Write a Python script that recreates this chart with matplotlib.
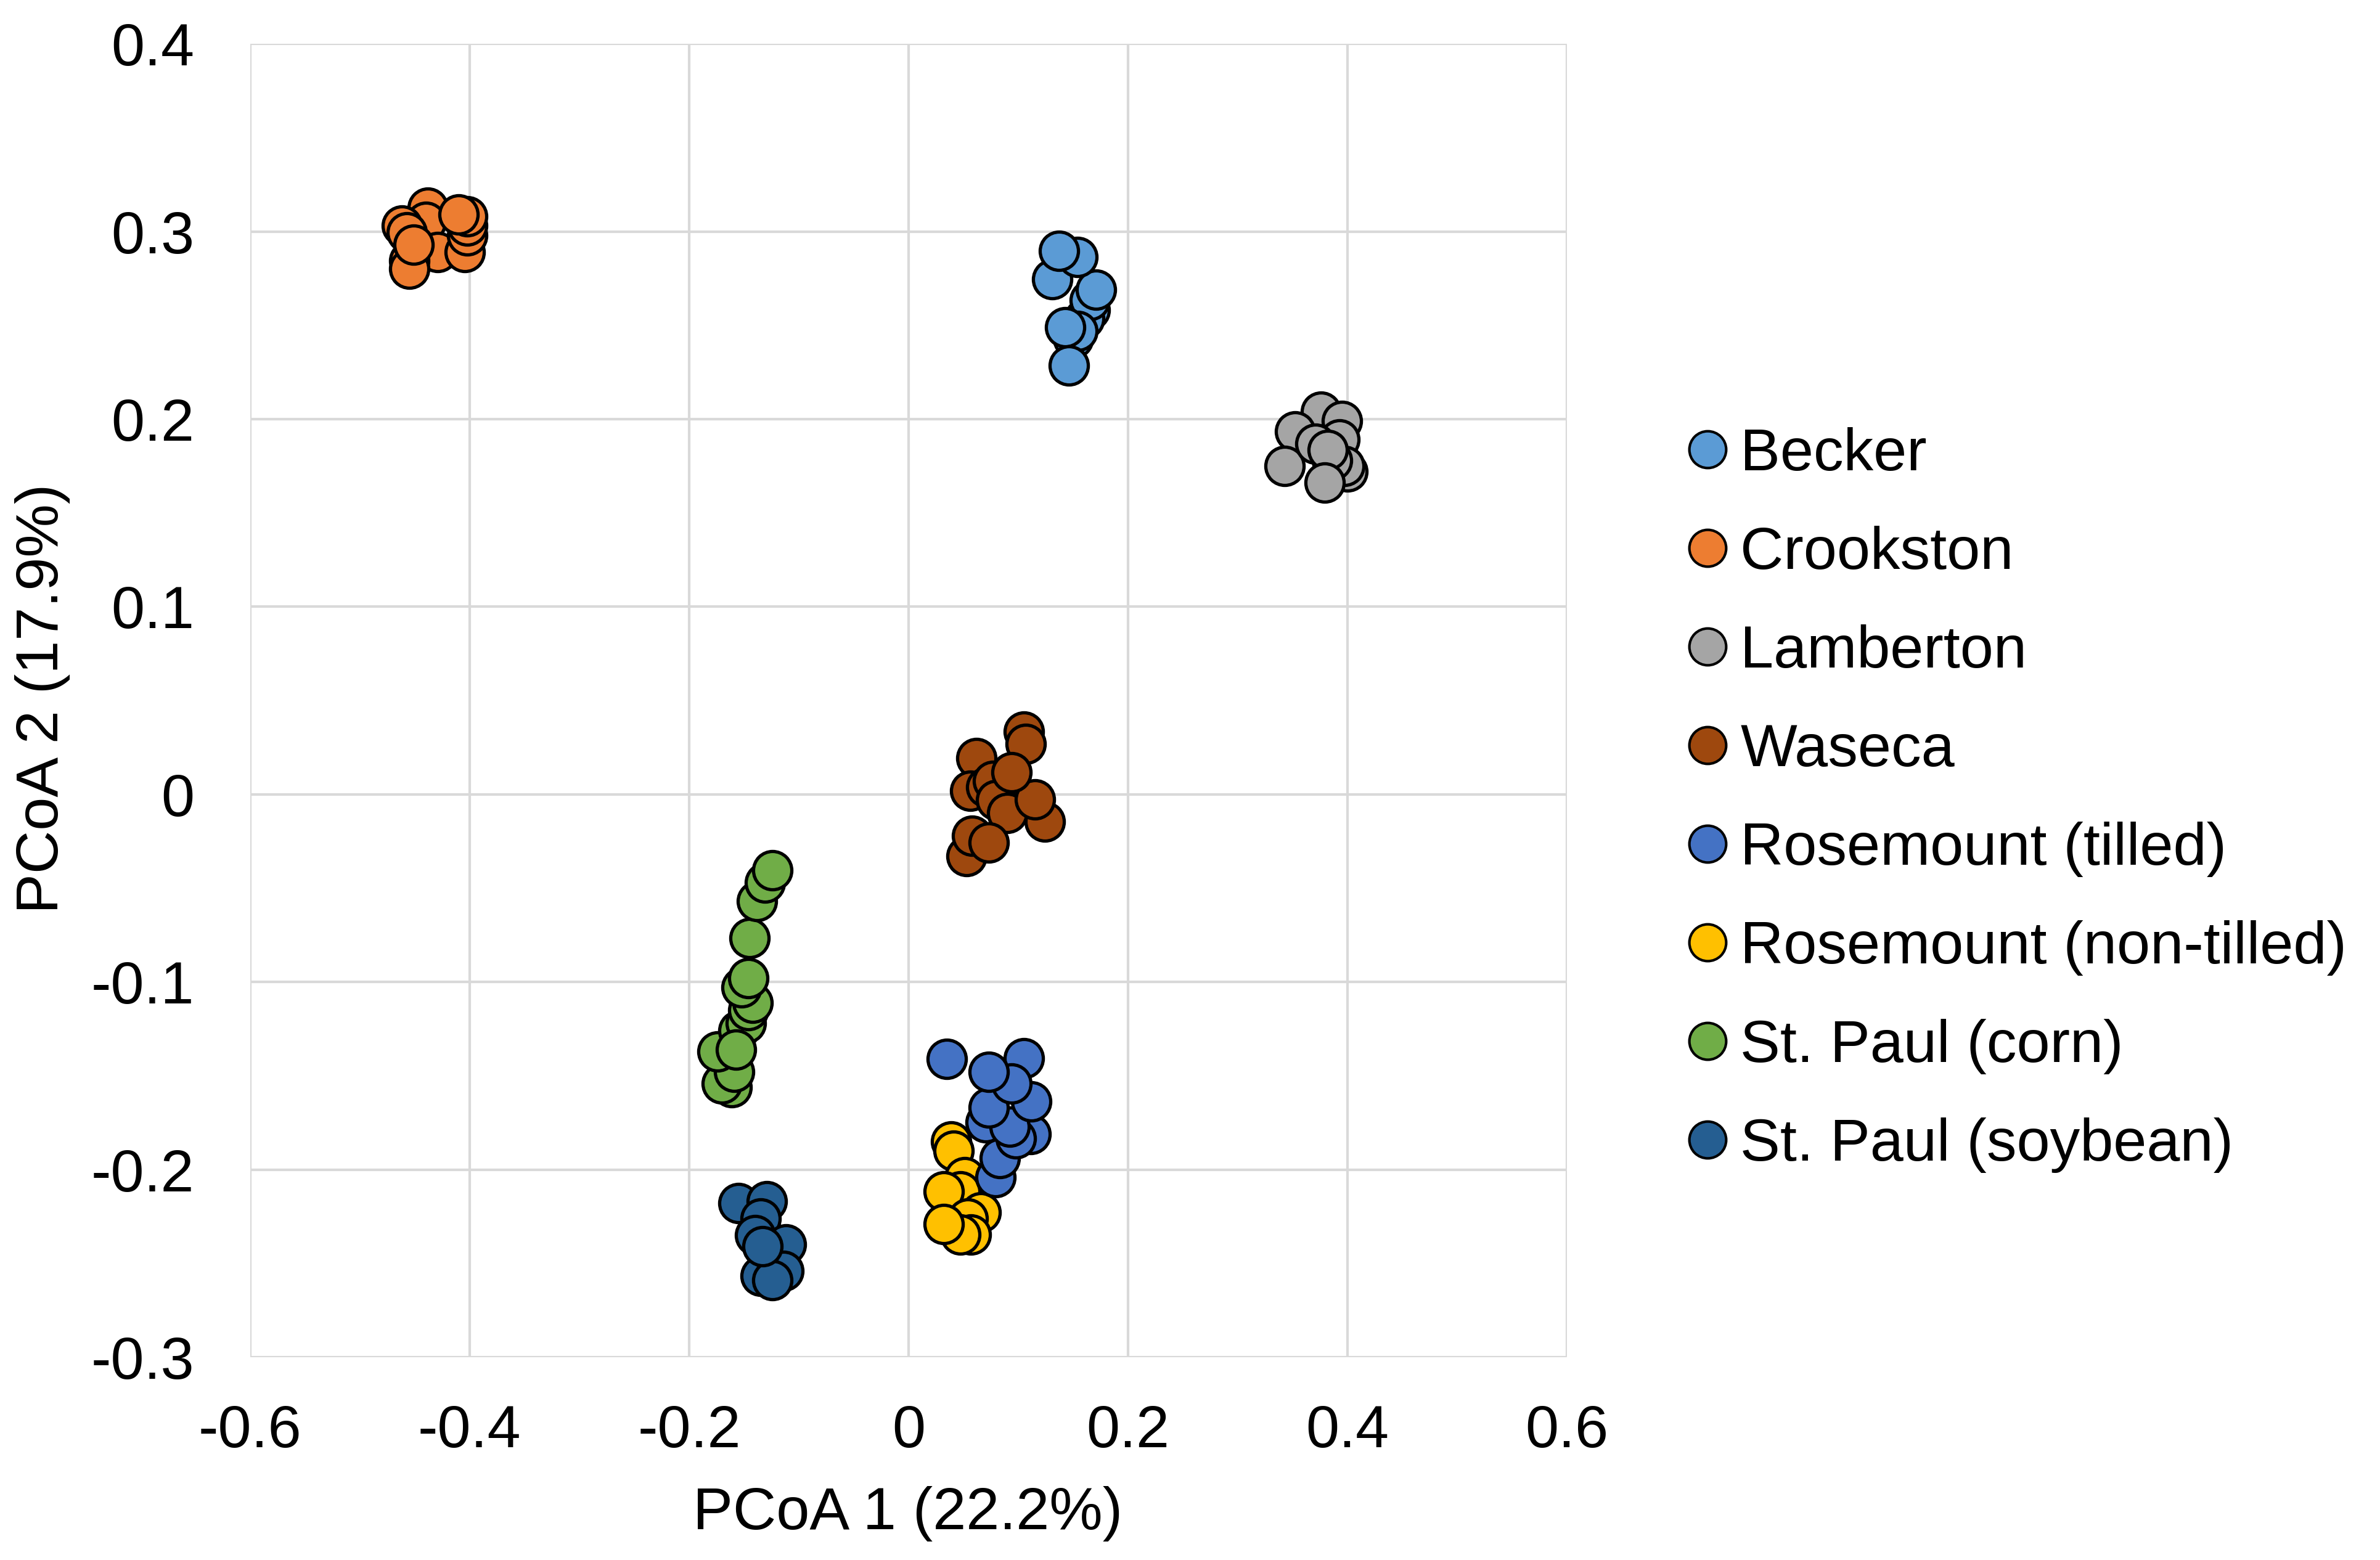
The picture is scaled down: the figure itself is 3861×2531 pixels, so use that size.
import matplotlib
matplotlib.use("Agg")
import matplotlib.pyplot as plt
from matplotlib.lines import Line2D

plt.rcParams['font.family'] = ['Liberation Sans', 'DejaVu Sans']

sites = ["Becker", "Crookston", "Lamberton", "Waseca", "Rosemount (tilled)",
         "Rosemount (non-tilled)", "St. Paul (corn)", "St. Paul (soybean)"]
colors = ["#5B9BD5", "#ED7D31", "#A5A5A5", "#9E480E", "#4472C4",
          "#FFC000", "#70AD47", "#255E91"]

becker_x = [0.165, 0.160, 0.165, 0.171, 0.150, 0.154, 0.143, 0.131, 0.154, 0.146, 0.137]
becker_y = [0.258, 0.2536, 0.2635, 0.269, 0.243, 0.247, 0.249, 0.2746, 0.2865, 0.2286, 0.2898]

crookston_x = [-0.438, -0.440, -0.462, -0.457, -0.429, -0.455, -0.455, -0.451,
               -0.4045, -0.402, -0.402, -0.402, -0.410]
crookston_y = [0.3128, 0.305, 0.303, 0.2996, 0.289, 0.2845, 0.280, 0.293,
               0.289, 0.298, 0.303, 0.308, 0.309]

lamberton_x = [0.376, 0.395, 0.352, 0.343, 0.400, 0.393, 0.371, 0.397, 0.386, 0.382, 0.379]
lamberton_y = [0.204, 0.199, 0.1935, 0.175, 0.172, 0.189, 0.187, 0.175, 0.178, 0.1836, 0.166]

waseca_x = [0.105, 0.107, 0.062, 0.056, 0.071, 0.077, 0.080, 0.090, 0.124,
            0.115, 0.053, 0.058, 0.073, 0.094]
waseca_y = [0.0335, 0.027, 0.0194, 0.002, 0.004, 0.007, -0.003, -0.010, -0.0145,
            -0.0026, -0.033, -0.022, -0.0256, 0.0118]

ros_t_x = [0.079, 0.083, 0.070, 0.111, 0.098, 0.092, 0.112, 0.073, 0.105, 0.094, 0.073, 0.035]
ros_t_y = [-0.204, -0.194, -0.175, -0.181, -0.1833, -0.177, -0.1636, -0.167, -0.1406,
           -0.154, -0.148, -0.141]

ros_n_x = [0.039, 0.041, 0.051, 0.047, 0.032, 0.066, 0.054, 0.057, 0.047, 0.032]
ros_n_y = [-0.185, -0.190, -0.204, -0.2116, -0.2116, -0.2227, -0.226, -0.2346, -0.2346, -0.229]

corn_x = [-0.161, -0.170, -0.159, -0.174, -0.155, -0.148, -0.146, -0.142, -0.152,
          -0.146, -0.145, -0.138, -0.131, -0.124, -0.157]
corn_y = [-0.156, -0.154, -0.148, -0.137, -0.126, -0.122, -0.115, -0.111, -0.103,
          -0.098, -0.0765, -0.057, -0.047, -0.0404, -0.136]

soy_x = [-0.155, -0.129, -0.135, -0.140, -0.112, -0.114, -0.135, -0.124, -0.133]
soy_y = [-0.218, -0.217, -0.226, -0.235, -0.240, -0.254, -0.2566, -0.259, -0.241]

xs = [becker_x, crookston_x, lamberton_x, waseca_x, ros_t_x, ros_n_x, corn_x, soy_x]
ys = [becker_y, crookston_y, lamberton_y, waseca_y, ros_t_y, ros_n_y, corn_y, soy_y]
zorders = [3, 3, 3, 3, 5, 4, 3, 3]

x_ticks = [-0.6, -0.4, -0.2, 0, 0.2, 0.4, 0.6]
y_ticks = [-0.3, -0.2, -0.1, 0, 0.1, 0.2, 0.3, 0.4]
x_labels = ["-0.6", "-0.4", "-0.2", "0", "0.2", "0.4", "0.6"]
y_labels = ["-0.3", "-0.2", "-0.1", "0", "0.1", "0.2", "0.3", "0.4"]

FS = 70

fig = plt.figure(figsize=(38.62, 25.31), dpi=100)
ax = fig.add_axes([0.1051, 0.130, 0.5531, 0.8419])

for x, y, c, z in zip(xs, ys, colors, zorders):
    ax.scatter(x, y, s=2000, c=c, edgecolors='black', linewidths=3.8, zorder=z)

ax.set_xlim(-0.6, 0.6)
ax.set_ylim(-0.3, 0.4)
ax.set_xticks(x_ticks)
ax.set_yticks(y_ticks)
ax.set_xticklabels(x_labels)
ax.set_yticklabels(y_labels)
ax.grid(True, color='#d9d9d9', linewidth=3)
ax.set_axisbelow(True)
for sp in ax.spines.values():
    sp.set_visible(False)
ax.tick_params(axis='both', length=0, labelsize=FS, colors='black')
ax.tick_params(axis='x', pad=55)
ax.tick_params(axis='y', pad=65)

fig.text(1473 / 3862, 1 - 2456 / 2531, "PCoA 1 (22.2%)", fontsize=FS,
         ha='center', va='center')
fig.text(69 / 3862, 1 - 1133 / 2531, "PCoA 2 (17.9%)", fontsize=FS,
         ha='center', va='center', rotation=90)

handles = [Line2D([0], [0], marker='o', linestyle='none', markersize=43,
                  markerfacecolor=c, markeredgecolor='black', markeredgewidth=3)
           for c in colors]
fig.legend(handles, sites, loc='upper left', bbox_to_anchor=(2726 / 3862, 1 - 693 / 2531),
           frameon=False, fontsize=FS, handletextpad=0.1, labelspacing=0.72,
           handlelength=0.9, borderpad=0, borderaxespad=0)

fig.savefig("out.png", dpi=100)
